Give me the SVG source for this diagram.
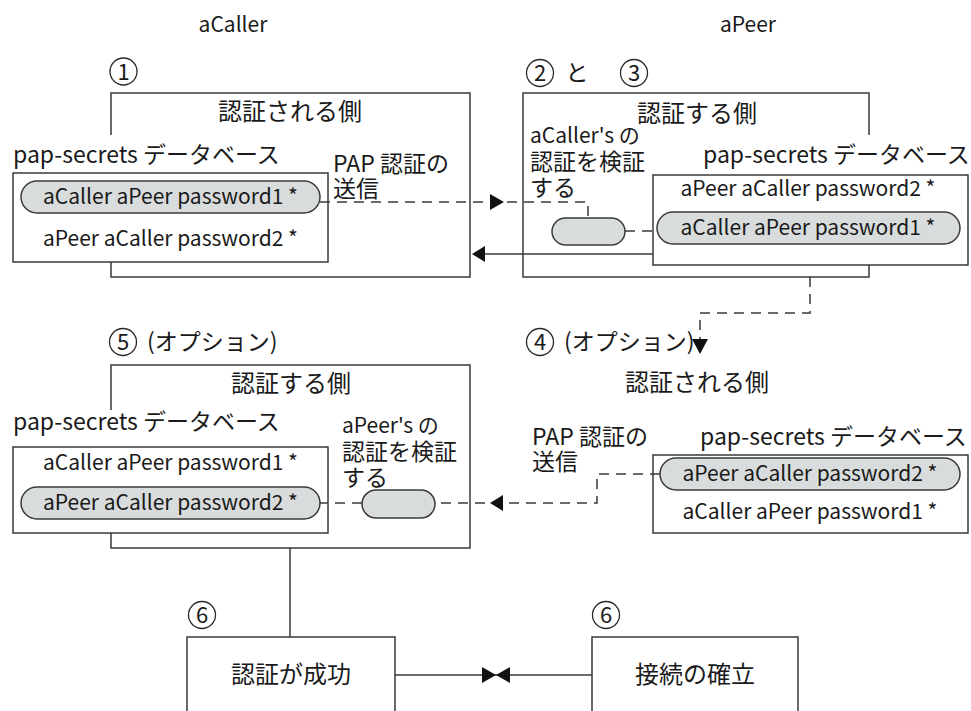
<svg xmlns="http://www.w3.org/2000/svg" width="971" height="711" viewBox="0 0 971 711">
<defs>
<style>
text{font-family:"Noto Sans CJK JP","Noto Sans",sans-serif;font-size:23px;fill:#1a1a1a}
.c{text-anchor:middle}
.l{font-size:21px}
.h{font-size:24px}
.d{font-size:22px;text-anchor:middle}
.box{fill:none;stroke:#3a3a3a;stroke-width:1.5}
.inner{fill:#fff;stroke:#3a3a3a;stroke-width:1.5}
.pill{fill:#d9dcdc;stroke:#3a3a3a;stroke-width:1.5}
.num{fill:#fff;stroke:#2a2a2a;stroke-width:1.3}
.dash{fill:none;stroke:#3a3a3a;stroke-width:1.5;stroke-dasharray:10 7}
.solid{fill:none;stroke:#3a3a3a;stroke-width:1.5}
.ah{fill:#111}
</style>
</defs>
<rect width="971" height="711" fill="#fff"/>
<g id="labels">
<text class="c l" x="233" y="32">aCaller</text>
<text class="c l" x="748" y="32">aPeer</text>
</g>
<g id="auth1">
<circle class="num" cx="123.5" cy="71.5" r="13.5"/><text class="d" x="123.5" y="79.5">1</text>
<path class="box" d="M111,135 V93 H470 V277 H111 V262"/>
<text class="c h" x="290" y="120">認証される側</text>
<text x="13" y="163">pap-secrets データベース</text>
<rect class="inner" x="13" y="173" width="315" height="89"/>
<rect class="pill" x="21" y="181" width="299" height="32" rx="16"/>
<text class="c l" x="170.5" y="204">aCaller aPeer password1 *</text>
<text class="c l" x="170.5" y="246">aPeer aCaller password2 *</text>
<text x="333" y="172">PAP 認証の<tspan x="333" y="197">送信</tspan></text>
</g>
<g id="auth23">
<circle class="num" cx="540" cy="73" r="13.5"/><text class="d" x="540" y="81">2</text>
<text class="c" x="577" y="81">と</text>
<circle class="num" cx="634" cy="73" r="13.5"/><text class="d" x="634" y="81">3</text>
<path class="box" d="M869,135 V93 H523 V277 H869 V265"/>
<text class="c h" x="697" y="122">認証する側</text>
<text x="530" y="143"><tspan class="l">aCaller's の</tspan><tspan x="530" y="169.5">認証を検証</tspan><tspan x="530" y="196">する</tspan></text>
<text x="703" y="163">pap-secrets データベース</text>
<rect class="inner" x="653" y="175" width="315" height="90"/>
<text class="c l" x="808" y="196">aPeer aCaller password2 *</text>
<rect class="pill" x="657" y="212" width="303" height="32" rx="16"/>
<text class="c l" x="808" y="235">aCaller aPeer password1 *</text>
<rect class="pill" x="552" y="218" width="73" height="27" rx="13.5"/>
</g>
<g id="auth4">
<circle class="num" cx="540" cy="342" r="13.5"/><text class="d" x="540" y="350">4</text>
<text x="564" y="350">(オプション)</text>
<text class="c h" x="697" y="391">認証される側</text>
<text x="532" y="445">PAP 認証の<tspan x="532" y="470">送信</tspan></text>
<text x="700" y="445">pap-secrets データベース</text>
<rect class="inner" x="653" y="455" width="315" height="78"/>
<rect class="pill" x="660" y="458" width="300" height="32" rx="16"/>
<text class="c l" x="810" y="481">aPeer aCaller password2 *</text>
<text class="c l" x="810" y="519">aCaller aPeer password1 *</text>
</g>
<g id="auth5">
<circle class="num" cx="123" cy="342" r="13.5"/><text class="d" x="123" y="350">5</text>
<text x="147" y="350">(オプション)</text>
<path class="box" d="M111,410 V365 H470 V548 H111 V533"/>
<text class="c h" x="291" y="392">認証する側</text>
<text x="13" y="430">pap-secrets データベース</text>
<rect class="inner" x="13" y="447" width="315" height="86"/>
<text class="c l" x="170.5" y="470">aCaller aPeer password1 *</text>
<rect class="pill" x="21" y="487" width="299" height="32" rx="16"/>
<text class="c l" x="170.5" y="510">aPeer aCaller password2 *</text>
<text x="342" y="433"><tspan class="l">aPeer's の</tspan><tspan x="342" y="459.5">認証を検証</tspan><tspan x="342" y="486">する</tspan></text>
<rect class="pill" x="362" y="490" width="73" height="28" rx="14"/>
</g>
<g id="success">
<circle class="num" cx="202" cy="615" r="13.5"/><text class="d" x="202" y="623">6</text>
<path class="box" d="M187,711 V637 H395 V711"/>
<text class="c h" x="291" y="683">認証が成功</text>
</g>
<g id="established">
<circle class="num" cx="606" cy="615" r="13.5"/><text class="d" x="606" y="623">6</text>
<path class="box" d="M592,711 V637 H798 V711"/>
<text class="c h" x="695" y="683">接続の確立</text>
</g>
<g id="connectors">
<path class="dash" d="M320,202 H588 V218"/>
<polygon class="ah" points="490,194 504,202 490,210"/>
<path class="dash" d="M625,231 H657"/>
<path class="solid" d="M653,254 H484"/>
<polygon class="ah" points="472,254 485,246 485,262"/>
<path class="dash" d="M810,277 V313 H700 V340"/>
<polygon class="ah" points="692,339 708,339 700,354"/>
<path class="dash" d="M660,474 H597 V503 H435"/>
<polygon class="ah" points="490,503 503,495 503,511"/>
<path class="dash" d="M362,503 H320"/>
<path class="solid" d="M290,548 V637"/>
<path class="solid" d="M395,675 H592"/>
<polygon class="ah" points="482,667 496,675 482,683"/>
<polygon class="ah" points="510,667 496,675 510,683"/>
</g>
</svg>
